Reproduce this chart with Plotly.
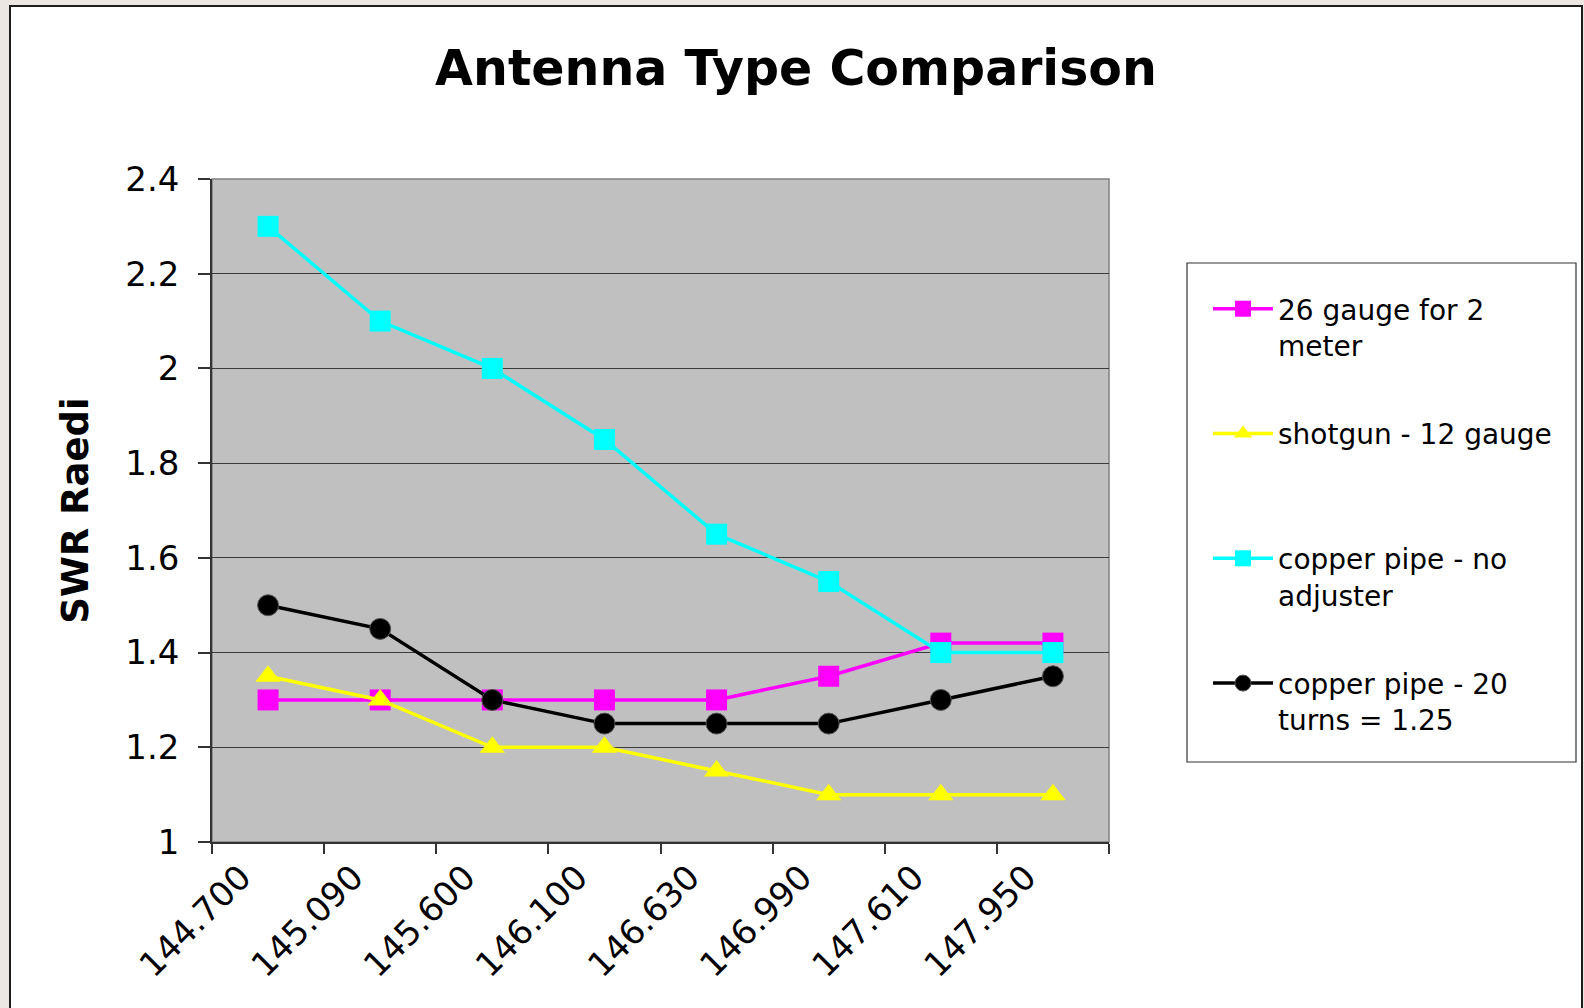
import plotly.graph_objects as go

# ---- data ----
categories = ["144.700", "145.090", "145.600", "146.100", "146.630", "146.990", "147.610", "147.950"]
gauge26 = [1.3, 1.3, 1.3, 1.3, 1.3, 1.35, 1.42, 1.42]
shotgun12 = [1.35, 1.3, 1.2, 1.2, 1.15, 1.1, 1.1, 1.1]
copper_no_adj = [2.3, 2.1, 2.0, 1.85, 1.65, 1.55, 1.4, 1.4]
copper_20_turns = [1.5, 1.45, 1.3, 1.25, 1.25, 1.25, 1.3, 1.35]
series_names = ["26 gauge for 2<br>meter", "shotgun - 12 gauge<br> ",
                "copper pipe - no<br>adjuster", "copper pipe - 20<br>turns = 1.25"]
title_text = "Antenna Type Comparison"
y_title = "SWR Raedi"

W, H = 1584, 1008
L, R, T, B = 212, 475, 179, 166
PW, PH = W - L - R, H - T - B

def px_x(p):
    return (p - L) / PW

def px_y(p):
    return (H - B - p) / PH

FONT = "DejaVu Sans"

fig = go.Figure()
styles = [
    dict(color="#FF00FF", symbol="square", size=21),
    dict(color="#FFFF00", symbol="triangle-up", size=22),
    dict(color="#00FFFF", symbol="square", size=21),
    dict(color="#000000", symbol="circle", size=21),
]
for i, (name, vals) in enumerate(zip(series_names, [gauge26, shotgun12, copper_no_adj, copper_20_turns])):
    st = styles[i]
    is_circle = st["symbol"] == "circle"
    fig.add_trace(go.Scatter(
        x=categories, y=vals, name=name, mode="lines+markers",
        legendgroup=f"g{i}",
        line=dict(color=st["color"], width=3.5),
        marker=dict(symbol=st["symbol"], size=st["size"], color=st["color"],
                    line=dict(color="#555555" if is_circle else st["color"], width=1 if is_circle else 0)),
    ))

shapes = [
    # white chart frame
    dict(type="rect", xref="paper", yref="paper", layer="below",
         x0=px_x(10), x1=px_x(1582), y0=px_y(1030), y1=px_y(6),
         fillcolor="white", line=dict(color="#1E1E1E", width=2)),
    # plot area
    dict(type="rect", xref="paper", yref="paper", layer="below",
         x0=0, x1=1, y0=0, y1=1, fillcolor="#C0C0C0", line=dict(color="#808080", width=1.5)),
    # legend box
    dict(type="rect", xref="paper", yref="paper", layer="below",
         x0=px_x(1187), x1=px_x(1576), y0=px_y(762), y1=px_y(263),
         fillcolor="white", line=dict(color="#333333", width=1.2)),
]

fig.update_layout(
    width=W, height=H,
    margin=dict(l=L, r=R, t=T, b=B, autoexpand=False),
    paper_bgcolor="#ECE7E2",
    plot_bgcolor="#C0C0C0",
    font=dict(family=FONT, color="black"),
    title=dict(text=f"<b>{title_text}</b>", font=dict(family=FONT, size=49, color="black"),
               x=796 / W, xref="container", xanchor="center",
               y=1 - 68 / H, yref="container", yanchor="middle"),
    showlegend=True,
    legend=dict(x=px_x(1208), y=px_y(284), xanchor="left", yanchor="top",
                font=dict(family=FONT, size=28, color="black"),
                bgcolor="rgba(0,0,0,0)", borderwidth=0,
                tracegroupgap=49, itemwidth=60, valign="top"),
    shapes=shapes,
    xaxis=dict(type="category", tickson="boundaries", ticks="outside", ticklen=10,
               tickcolor="#333333", tickwidth=1.5, showline=True, linecolor="#333333", linewidth=1.5,
               showgrid=False, tickangle=-45, tickfont=dict(family=FONT, size=34, color="black"),
               ticklabelshift=-27, range=[-0.5, 7.5], zeroline=False),
    yaxis=dict(range=[1, 2.4], dtick=0.2, ticks="outside", ticklen=12, tickcolor="#333333",
               tickwidth=1.5, showline=True, linecolor="#333333", linewidth=1.5,
               showgrid=True, gridcolor="#3C3C3C", gridwidth=1, zeroline=False,
               tickfont=dict(family=FONT, size=34, color="black"), ticklabelstandoff=12,
               title=dict(text=f"<b>{y_title}</b>", font=dict(family=FONT, size=37, color="black"),
                          standoff=25)),
)

fig.write_html("out.html", config={"displayModeBar": False},
               post_script="document.body.style.margin='0px';document.body.style.overflow='hidden';")
